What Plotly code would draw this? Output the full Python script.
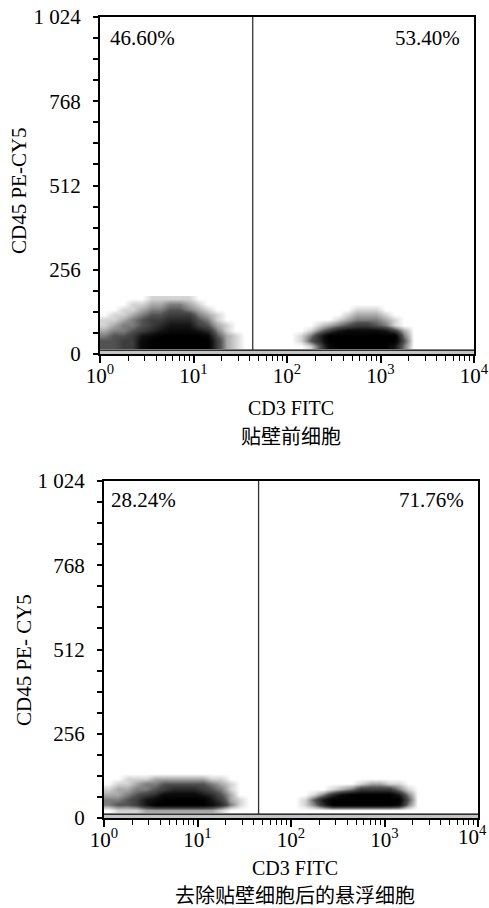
import plotly.graph_objects as go

W, H = 489, 908

# ---- data -------------------------------------------------------------
# Bin edges of the density grids: CD3 FITC in decades, CD45 PE-CY5 in channels
LEFT_EDGES_DEC = [0.0, 0.1, 0.2, 0.3, 0.4, 0.5, 0.6, 0.7, 0.8, 0.9,
                  1.0, 1.1, 1.2, 1.3, 1.4, 1.5, 1.6]
RIGHT_EDGES_DEC = [2.0, 2.1, 2.2, 2.3, 2.4, 2.5, 2.6, 2.7, 2.8, 2.9,
                   3.0, 3.1, 3.2, 3.3, 3.4]
CD45_EDGES = [16, 32, 48, 64, 80, 96, 112, 128, 144, 160, 176]

# Event density per bin (0 = empty ... 9 = saturated), rows from low to high CD45
before_cd3neg = [
    "4455899999995210",
    "4455899999995210",
    "3445789999984210",
    "2334567888763100",
    "1233456777542100",
    "1123455666431000",
    "0112344555321000",
    "0011233443210000",
    "0001122332100000",
    "0000011111000000",
]
before_cd3pos = [
    "00148999999730",
    "01469999999940",
    "01369999999930",
    "00135788887520",
    "00012345543100",
    "00000123332100",
    "00000012221000",
    "00000001110000",
    "00000000000000",
    "00000000000000",
]
after_cd3neg = [
    "0111222222221000",
    "3445799999986310",
    "3345789999975210",
    "2234568888764200",
    "1223345666543100",
    "0112334444432100",
    "0011122222211000",
    "0000000000000000",
    "0000000000000000",
    "0000000000000000",
]
after_cd3pos = [
    "00000000000000",
    "01369999999830",
    "01479999999940",
    "00136899999730",
    "00001235555310",
    "00000001221100",
    "00000000000000",
    "00000000000000",
    "00000000000000",
    "00000000000000",
]

GATES = [43, 45]                      # CD3 gate position
PCT_LEFT = ["46.60%", "28.24%"]
PCT_RIGHT = ["53.40%", "71.76%"]
SUBTITLES = ["贴壁前细胞", "去除贴壁细胞后的悬浮细胞"]
Y_TITLES = ["CD45 PE-CY5", "CD45 PE- CY5"]
DEBRIS_LEVEL = 12                     # lower threshold line

X_TICKS = [1, 10, 100, 1000, 10000]
X_TICKTEXT = ["10<sup>0</sup>", "10<sup>1</sup>", "10<sup>2</sup>",
              "10<sup>3</sup>", "10<sup>4</sup>"]
X_MINOR = [m * d for d in (1, 10, 100, 1000) for m in range(2, 10)]
Y_TICKS = [0, 256, 512, 768, 1024]
Y_TICKTEXT = ["0", "256", "512", "768", "1 024"]
Y_MINOR = [64, 128, 192, 320, 384, 448, 576, 640, 704, 832, 896, 960]

# ---- layout helpers (pixel -> paper) -----------------------------------
def px(x):
    return x / W


def py(y):
    return 1 - y / H


PANELS = [
    dict(l=100, r=474, t=17, b=354, title_y=408, sub_y=435, ytitle_x=19, ytitle_y=191,
         pct_y=38, pct_lx=108, pct_rx=462),
    dict(l=104, r=478, t=481, b=818, title_y=868, sub_y=894, ytitle_x=24, ytitle_y=660,
         pct_y=500, pct_lx=109, pct_rx=466),
]

SERIF = "Liberation Serif, Times New Roman, serif"
CJK = "Noto Sans CJK SC"
grey_scale = [[0, "white"], [0.12, "#d0d0d0"], [0.45, "#505050"], [0.8, "#111111"], [1, "black"]]

fig = go.Figure()
annotations = []
grids = [(before_cd3neg, before_cd3pos), (after_cd3neg, after_cd3pos)]

for i, (p, (neg, pos)) in enumerate(zip(PANELS, grids)):
    xa = "x" if i == 0 else "x2"
    ya = "y" if i == 0 else "y2"
    for rows, edges in ((neg, LEFT_EDGES_DEC), (pos, RIGHT_EDGES_DEC)):
        z = [[int(c) for c in r] for r in rows]
        fig.add_trace(go.Heatmap(
            x=[10 ** e for e in edges], y=CD45_EDGES, z=z,
            zmin=0, zmax=9, colorscale=grey_scale, showscale=False,
            zsmooth="best", xaxis=xa, yaxis=ya, hoverinfo="skip"))
    # threshold band along the bottom
    fig.add_trace(go.Scatter(
        x=[1, 10000], y=[DEBRIS_LEVEL, DEBRIS_LEVEL], mode="lines",
        line=dict(color="black", width=1.3), fill="tozeroy", fillcolor="#c4c4c4",
        xaxis=xa, yaxis=ya, showlegend=False, hoverinfo="skip"))
    # CD3 gate
    fig.add_trace(go.Scatter(
        x=[GATES[i], GATES[i]], y=[DEBRIS_LEVEL, 1024], mode="lines",
        line=dict(color="#333333", width=1.3),
        xaxis=xa, yaxis=ya, showlegend=False, hoverinfo="skip"))

    tick_font = dict(family=SERIF, size=21, color="black")
    axis_common = dict(showline=True, linecolor="black", linewidth=2, mirror=True,
                       showgrid=False, zeroline=False, ticks="outside", automargin=False,
                       tickcolor="black", tickfont=tick_font)
    # the last x label of the lower panel sits at the page edge and is placed by hand
    xt_text = X_TICKTEXT if i == 0 else X_TICKTEXT[:-1] + [""]
    fig.layout["xaxis" if i == 0 else "xaxis2"] = dict(
        axis_common, type="log", range=[0, 4], domain=[px(p["l"]), px(p["r"])],
        anchor=ya, tickvals=X_TICKS, ticktext=xt_text, ticklen=7, tickwidth=1.5,
        ticklabelstandoff=-5,
        minor=dict(tickvals=X_MINOR, ticks="outside", ticklen=5, tickwidth=1.2,
                   tickcolor="black", showgrid=False))
    fig.layout["yaxis" if i == 0 else "yaxis2"] = dict(
        axis_common, range=[0, 1024], domain=[py(p["b"]), py(p["t"])],
        anchor=xa, tickvals=Y_TICKS, ticktext=Y_TICKTEXT, ticklen=5, tickwidth=1.5,
        ticklabelstandoff=8,
        minor=dict(tickvals=Y_MINOR, ticks="outside", ticklen=5, tickwidth=1.5,
                   tickcolor="black", showgrid=False))

    cx = (p["l"] + p["r"]) / 2 + 4
    annotations += [
        dict(text=PCT_LEFT[i], x=px(p["pct_lx"]), y=py(p["pct_y"]), xanchor="left",
             yanchor="middle", font=dict(family=SERIF, size=21, color="black")),
        dict(text=PCT_RIGHT[i], x=px(p["pct_rx"]), y=py(p["pct_y"]), xanchor="right",
             yanchor="middle", font=dict(family=SERIF, size=21, color="black")),
        dict(text="CD3 FITC", x=px(cx), y=py(p["title_y"]), xanchor="center",
             yanchor="middle", font=dict(family=SERIF, size=20, color="black")),
        dict(text=SUBTITLES[i], x=px(cx), y=py(p["sub_y"]), xanchor="center",
             yanchor="middle", font=dict(family=CJK, size=20, color="black")),
        dict(text=Y_TITLES[i], x=px(p["ytitle_x"]), y=py(p["ytitle_y"]), textangle=-90,
             xanchor="center", yanchor="middle",
             font=dict(family=SERIF, size=21, color="black")),
    ]
    if i == 1:
        annotations.append(dict(text=X_TICKTEXT[-1], x=1.0, y=py(p["b"] + 17),
                                xanchor="right", yanchor="middle", font=tick_font))

for a in annotations:
    a.update(xref="paper", yref="paper", showarrow=False)

fig.update_layout(
    width=W, height=H, margin=dict(l=0, r=0, t=0, b=0),
    font=dict(family=SERIF, color="black"),
    paper_bgcolor="white", plot_bgcolor="white", showlegend=False,
    annotations=annotations)

fig.write_html("out.html")
